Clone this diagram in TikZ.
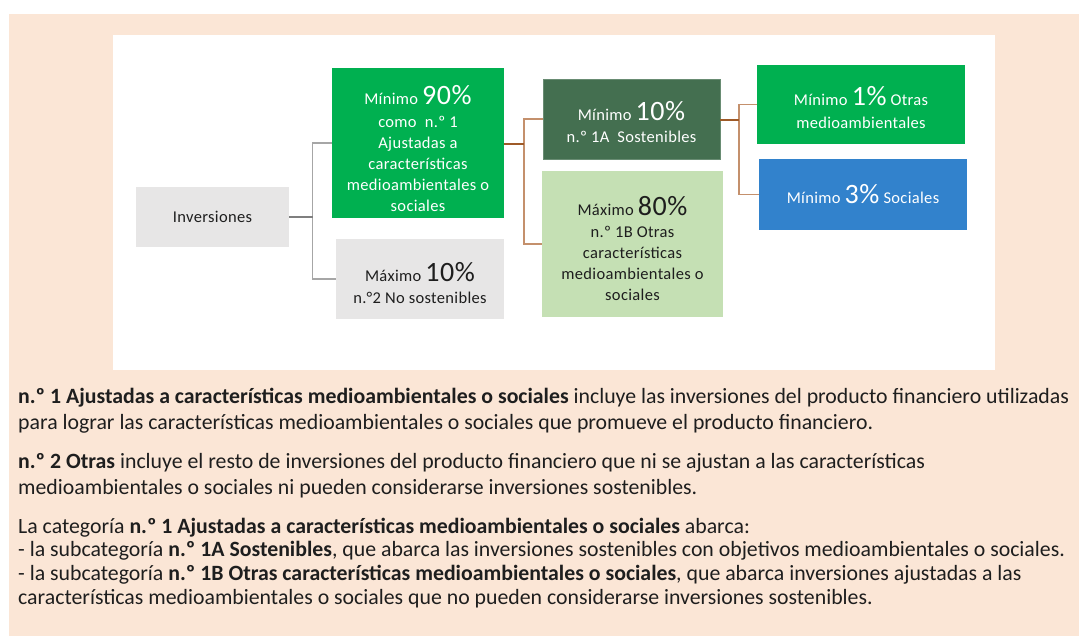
\documentclass[tikz,border=0pt]{standalone}
\usepackage{fontspec}
\setmainfont{Carlito}
\definecolor{peach}{HTML}{FBE6D6}
\definecolor{lgray}{HTML}{E7E6E6}
\definecolor{mgreen}{HTML}{00B050}
\definecolor{dgreen}{HTML}{446F50}
\definecolor{lgreen}{HTML}{C5E0B4}
\definecolor{mblue}{HTML}{3282CC}
\definecolor{brownl}{HTML}{C4906C}
\definecolor{brownd}{HTML}{9E5A28}
\definecolor{grayl}{HTML}{A6A6A6}
\definecolor{grayd}{HTML}{7F7F7F}
\definecolor{txt}{HTML}{1E1E1E}
\tikzset{
  box/.style={rectangle, inner sep=0pt},
  boxtext/.style={inner sep=0pt, align=center, font=\fontsize{16.5}{21}\selectfont\addfontfeature{LetterSpace=2}},
  bodyline/.style={anchor=base west, inner sep=0pt, font=\fontsize{21.8}{24}\selectfont, text=txt},
  gconn/.style={draw=grayl, line width=1.5pt},
  bconn/.style={draw=brownl, line width=1.5pt},
}
\newcommand{\pct}[1]{{\fontsize{28}{21}\selectfont #1}}
\begin{document}
\begin{tikzpicture}[x=1pt,y=-1pt]
\useasboundingbox (0,0) rectangle (1079,637);
\fill[peach] (9,14) rectangle (1079,636);
\fill[white] (113,35) rectangle (995,370);

% boxes
\node[box, fill=lgray, minimum width=153pt, minimum height=60pt] (inv) at (212.5,217) {};
\node[box, fill=mgreen, minimum width=172pt, minimum height=150pt] (n1) at (418,143) {};
\node[box, fill=lgray, minimum width=168pt, minimum height=80pt] (n2) at (420,279) {};
\node[box, fill=dgreen, draw=dgreen!80!white, minimum width=177pt, minimum height=80pt] (n1a) at (631.5,119) {};
\node[box, fill=lgreen, minimum width=181pt, minimum height=146pt] (n1b) at (632.5,244) {};
\node[box, fill=mgreen, minimum width=208pt, minimum height=79pt] (amb) at (861,104.5) {};
\node[box, fill=mblue, minimum width=208pt, minimum height=71pt] (soc) at (863,194.5) {};

% box texts
\node[boxtext, text=txt] (invt) at (inv.center) {Inversiones};
\node[boxtext, text=white] (n1t) at ([yshift=-5.5pt]n1.center)
  {Mínimo \pct{90\%}\\[2pt]como\ \ n.º 1\\Ajustadas a\\características\\medioambientales o\\sociales};
\node[boxtext, text=txt] (n2t) at ([yshift=-4pt]n2.center)
  {Máximo \pct{10\%}\\[1pt]n.°2 No sostenibles};
\node[boxtext, text=white] (n1at) at ([yshift=-3pt]n1a.center)
  {Mínimo \pct{10\%}\\[1pt]n.º 1A\ \ Sostenibles};
\node[boxtext, text=txt] (n1bt) at ([yshift=-4pt]n1b.center)
  {Máximo \pct{80\%}\\[1pt]n.º 1B Otras\\características\\medioambientales o\\sociales};
\node[boxtext, text=white] (ambt) at ([yshift=-3pt]amb.center)
  {Mínimo \pct{1\%} Otras\\[2pt]medioambientales};
\node[boxtext, text=white] (soct) at (soc.center)
  {Mínimo \pct{3\%} Sociales};

% connectors
\coordinate (g1) at (312.5,217);
\draw[gconn] (g1) -- (g1 |- n1.west) -- (n1.west);
\draw[gconn] (g1) -- (g1 |- n2.west) -- (n2.west);
\draw[draw=grayd, line width=1.5pt] (inv.east) -- (g1);

\coordinate (b1) at (524,144);
\draw[bconn] (b1) -- (b1 |- n1a.west) -- (n1a.west);
\draw[bconn] (b1) -- (b1 |- n1b.west) -- (n1b.west);
\draw[draw=brownd, line width=1.5pt] (n1.east |- b1) -- (b1);

\coordinate (b2) at (739,120);
\draw[bconn] (b2) -- (b2 |- amb.west) -- (amb.west);
\draw[bconn] (b2) -- (b2 |- soc.west) -- (soc.west);
\draw[draw=brownd, line width=1.5pt] (n1a.east |- b2) -- (b2);

% body text
\node[bodyline] (p1a) at (18,403) {\textbf{n.º 1 Ajustadas a características medioambientales o sociales} incluye las inversiones del producto financiero utilizadas};
\node[bodyline] (p1b) at (18,429) {para lograr las características medioambientales o sociales que promueve el producto financiero.};
\node[bodyline] (p2a) at (18,468) {\textbf{n.º 2 Otras} incluye el resto de inversiones del producto financiero que ni se ajustan a las características};
\node[bodyline] (p2b) at (18,494) {medioambientales o sociales ni pueden considerarse inversiones sostenibles.};
\node[bodyline] (p3a) at (18,533) {La categoría \textbf{n.º 1 Ajustadas a características medioambientales o sociales} abarca:};
\node[bodyline] (p3b) at (18,556) {- la subcategoría \textbf{n.º 1A Sostenibles}, que abarca las inversiones sostenibles con objetivos medioambientales o sociales.};
\node[bodyline] (p3c) at (18,580) {- la subcategoría \textbf{n.º 1B Otras características medioambientales o sociales}, que abarca inversiones ajustadas a las};
\node[bodyline] (p3d) at (18,604) {características medioambientales o sociales que no pueden considerarse inversiones sostenibles.};
\end{tikzpicture}
\end{document}
